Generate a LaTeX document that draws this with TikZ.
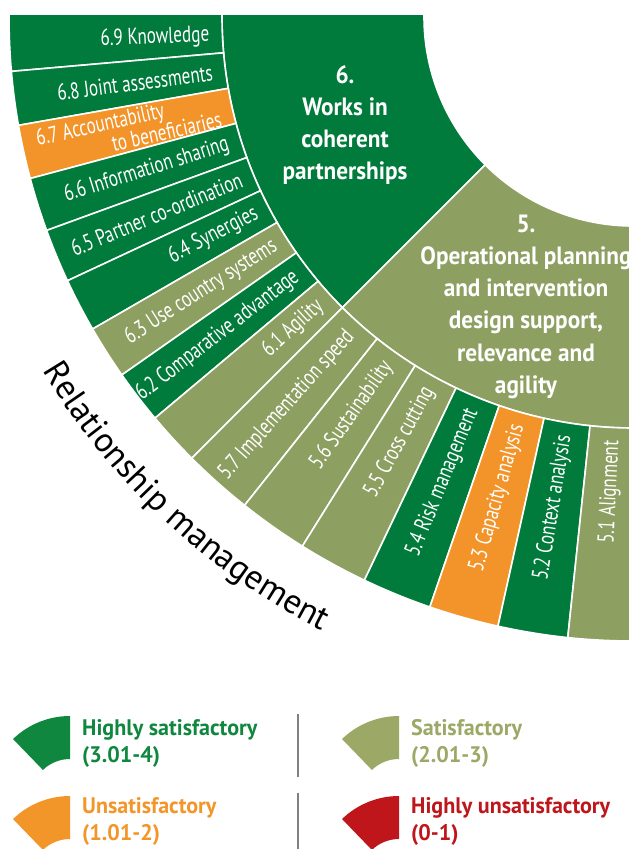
\documentclass[tikz,border=0pt]{standalone}
\usepackage{fontspec}
\setmainfont{PT Sans}
\newfontfamily\condfont{PT Sans}[FakeStretch=0.745]
\newfontfamily\grpfont{PT Sans}[FakeStretch=0.93]
\newfontfamily\legfont{PT Sans}[FakeStretch=0.98]
\newfontfamily\relfont{PT Sans}
\usetikzlibrary{decorations.text}
\definecolor{cgreen}{RGB}{0,123,59}
\definecolor{colive}{RGB}{142,159,98}
\definecolor{corange}{RGB}{242,148,41}
\definecolor{lgreen}{RGB}{16,135,62}
\definecolor{lolive}{RGB}{156,168,102}
\definecolor{lorange}{RGB}{243,150,42}
\definecolor{lred}{RGB}{190,22,26}
\definecolor{lgray}{RGB}{128,128,128}
\newcommand\ringseg[5]{\filldraw[fill=#1,draw=white,line width=1.6pt] (#2:#4) arc[start angle=#2,end angle=#3,radius=#4] -- (#3:#5) arc[start angle=#3,end angle=#2,radius=#5] -- cycle;}
\newcommand\legicon[3]{\begin{scope}[shift={(#2,#3)}]\fill[#1] (90:82) arc[start angle=90,end angle=134,radius=82] -- (134:39) arc[start angle=134,end angle=90,radius=39] -- cycle;\end{scope}}
\tikzset{
  lab/.style={anchor=east,inner sep=0pt,text=white,font=\condfont\fontsize{23}{18}\selectfont},
  grp/.style={anchor=base,inner sep=0pt,text=white,font=\grpfont\bfseries\fontsize{25}{32.3}\selectfont},
  leg/.style={anchor=base west,inner sep=0pt,font=\legfont\bfseries\fontsize{22.5}{27}\selectfont},
  divider/.style={draw=lgray,line width=2pt}
}
\begin{document}
\begin{tikzpicture}[x=1pt,y=1pt]
\fill[white] (0,0) rectangle (629,-849);
\useasboundingbox (0,0) rectangle (629,-849);
\coordinate (C) at (633,-17);
\begin{scope}
\clip (0,-15) rectangle (629,-849);
\begin{scope}[shift={(C)}]
% inner ring
\ringseg{cgreen}{177}{225}{209}{411}
\ringseg{colive}{225}{275}{209}{411}
% outer ring, group 6
\ringseg{cgreen}{177}{185}{411}{624}
\ringseg{cgreen}{185}{190}{411}{624}
\ringseg{corange}{190}{195}{411}{624}
\ringseg{cgreen}{195}{200}{411}{624}
\ringseg{cgreen}{200}{205}{411}{624}
\ringseg{cgreen}{205}{210}{411}{624}
\ringseg{colive}{210}{215}{411}{624}
\ringseg{cgreen}{215}{220}{411}{624}
\ringseg{colive}{220}{225}{411}{624}
% outer ring, group 5
\ringseg{colive}{225}{231.5}{411}{624}
\ringseg{colive}{231.5}{238}{411}{624}
\ringseg{colive}{238}{244.5}{411}{624}
\ringseg{cgreen}{244.5}{251}{411}{624}
\ringseg{corange}{251}{257.5}{411}{624}
\ringseg{cgreen}{257.5}{264}{411}{624}
\ringseg{colive}{264}{275}{411}{624}
% labels
\node[lab,rotate=2.5] (l69) at (182.5:424) {6.9 Knowledge};
\node[lab,rotate=7.5] (l68) at (187.5:424) {6.8 Joint assessments};
\node[lab,rotate=12.5,align=right] (l67) at (192.5:424) {6.7 Accountability\hspace*{54pt}\\to beneficiaries};
\node[lab,rotate=17.5] (l66) at (197.5:424) {6.6 Information sharing};
\node[lab,rotate=22.5] (l65) at (202.5:424) {6.5 Partner co-ordination};
\node[lab,rotate=27.5] (l64) at (207.5:424) {6.4 Synergies};
\node[lab,rotate=32.5] (l63) at (212.5:424) {6.3 Use country systems};
\node[lab,rotate=37.5] (l62) at (217.5:424) {6.2 Comparative advantage};
\node[lab,rotate=42.5] (l61) at (222.5:424) {6.1 Agility};
\node[lab,rotate=48.25] (l57) at (228.25:424) {5.7 Implementation speed};
\node[lab,rotate=54.75] (l56) at (234.75:424) {5.6 Sustainability};
\node[lab,rotate=61.25] (l55) at (241.25:424) {5.5 Cross cutting};
\node[lab,rotate=67.75] (l54) at (247.75:424) {5.4 Risk management};
\node[lab,rotate=74.25] (l53) at (254.25:424) {5.3 Capacity analysis};
\node[lab,rotate=80.75] (l52) at (260.75:424) {5.2 Context analysis};
\node[lab,rotate=87.25] (l51) at (267.25:424) {5.1 Alignment};
\end{scope}
\node[grp] (g6) at (345,-83) {\begin{tabular}[t]{@{}c@{}}6.\\Works in\\coherent\\partnerships\end{tabular}};
\node[grp] (g5) at (526,-232) {\begin{tabular}[t]{@{}c@{}}5.\\Operational planning\\and intervention\\design support,\\relevance and\\agility\end{tabular}};
\end{scope}
% curved title
\path[decorate,decoration={text along path,text align=center,text={|\relfont\fontsize{34.5}{40}\selectfont|Relationship management}}] ([shift={(C)}]207.5:688) arc[start angle=207.5,end angle=246.5,radius=688];
% legend
\legicon{lgreen}{70}{-798}
\legicon{lorange}{70}{-878}
\legicon{lolive}{399}{-798}
\legicon{lred}{399}{-878}
\node[leg,text=lgreen] (t1) at (82,-735) {\begin{tabular}[t]{@{}l@{}}Highly satisfactory\\(3.01-4)\end{tabular}};
\node[leg,text=lolive] (t2) at (411,-735) {\begin{tabular}[t]{@{}l@{}}Satisfactory\\(2.01-3)\end{tabular}};
\node[leg,text=lorange] (t3) at (82,-813) {\begin{tabular}[t]{@{}l@{}}Unsatisfactory\\(1.01-2)\end{tabular}};
\node[leg,text=lred] (t4) at (411,-813) {\begin{tabular}[t]{@{}l@{}}Highly unsatisfactory\\(0-1)\end{tabular}};
\coordinate (d1a) at (298,-714);
\coordinate (d1b) at (298,-777);
\coordinate (d2a) at (298,-793);
\coordinate (d2b) at (298,-849);
\draw[divider] (d1a) -- (d1b);
\draw[divider] (d2a) -- (d2b);
\end{tikzpicture}
\end{document}
